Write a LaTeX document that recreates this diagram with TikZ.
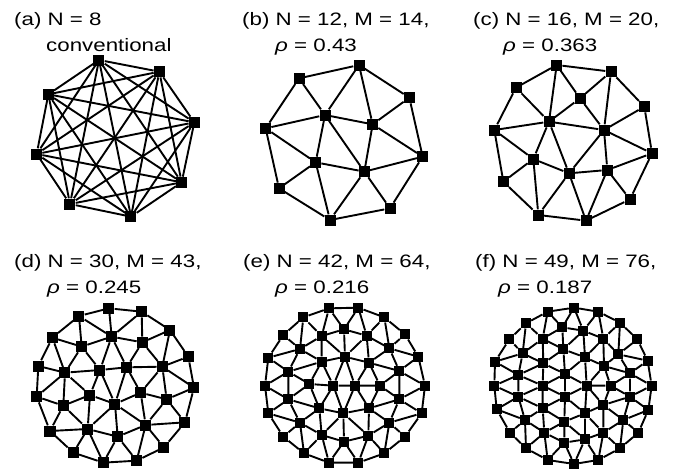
\documentclass[tikz,border=0pt]{standalone}
\usepackage{fontspec}
\setmainfont{Liberation Sans}[FakeStretch=1.24]
\usepackage{tikz}

\begin{document}
\begin{tikzpicture}[
        x=1pt, y=-1pt,
        sq/.style={fill=black, draw=none, inner sep=0pt, minimum size=11pt},
        sqs/.style={sq, minimum size=10pt},
        edge/.style={line width=1.9pt},
        lab/.style={anchor=base west, inner sep=0pt, font=\fontsize{18}{21}\selectfont}
    ]
    \useasboundingbox (0,0) rectangle (677,472);

    % Panel titles
    \node[lab] (tA) at (14,25) {(a) N = 8};
    \node[lab] (tA2) at (46,51) {conventional};
    \node[lab] (tB) at (242,25) {(b) N = 12, M = 14,};
    \node[lab] (tB2) at (275,51) {\textit{ρ} = 0.43};
    \node[lab] (tC) at (473,25) {(c) N = 16, M = 20,};
    \node[lab] (tC2) at (503,51) {\textit{ρ} = 0.363};
    \node[lab] (tD) at (14,267) {(d) N = 30, M = 43,};
    \node[lab] (tD2) at (47,293) {\textit{ρ} = 0.245};
    \node[lab] (tE) at (243,267) {(e) N = 42, M = 64,};
    \node[lab] (tE2) at (275,293) {\textit{ρ} = 0.216};
    \node[lab] (tF) at (475,267) {(f) N = 49, M = 76,};
    \node[lab] (tF2) at (498,293) {\textit{ρ} = 0.187};

    % (a) fully connected
    \begin{scope}[shift={(0,0)}, scale=1/3]
    \foreach \n/\x/\y in {1/297/180, 2/478/215, 3/583/367, 4/545/547,
                          5/393/650, 6/210/612, 7/110/462, 8/145/283}
        \node[sq] (a\n) at (\x,\y) {};
    \foreach \i in {1,...,7}{
        \pgfmathtruncatemacro\k{\i+1}
        \foreach \j in {\k,...,8}
            \draw[edge] (a\i) -- (a\j);
    }
    \end{scope}

    % (b)
    \begin{scope}[shift={(225,0)}, scale=1/3]
    \foreach \n/\x/\y in {1/402/195, 2/222/235, 3/553/293, 4/300/345, 5/443/373,
                          6/122/385, 7/593/470, 8/272/487, 9/418/515, 10/162/565,
                          11/495/625, 12/315/660}
        \node[sq] (b\n) at (\x,\y) {};
    \foreach \u/\v in {b1/b2, b2/b4, b2/b6, b1/b4, b1/b5, b1/b3, b3/b5, b3/b7,
                       b4/b6, b4/b5, b4/b8, b4/b9, b5/b7, b5/b9, b6/b8, b6/b10,
                       b8/b9, b8/b10, b8/b12, b9/b7, b9/b12, b9/b11, b7/b11,
                       b12/b10, b12/b11}
        \draw[edge] (\u) -- (\v);
    \end{scope}

    % (c)
    \begin{scope}[shift={(450,0)}, scale=1/3]
    \foreach \n/\x/\y in {1/320/195, 2/483/215, 3/198/263, 4/390/295, 5/583/320,
                          6/297/365, 7/133/390, 8/462/390, 9/606/460, 10/250/477,
                          11/357/520, 12/472/510, 13/160/545, 14/540/598,
                          15/265/645, 16/408/662}
        \node[sq] (c\n) at (\x,\y) {};
    \foreach \u/\v in {c1/c2, c1/c3, c1/c4, c1/c6, c2/c4, c2/c5, c2/c8, c3/c6,
                       c3/c7, c4/c6, c4/c8, c5/c8, c5/c9, c6/c7, c6/c8, c6/c10,
                       c6/c11, c7/c10, c7/c13, c8/c9, c8/c11, c8/c12, c9/c12,
                       c9/c14, c10/c11, c10/c13, c10/c15, c11/c12, c11/c15,
                       c11/c16, c12/c14, c12/c16, c13/c15, c14/c16, c15/c16}
        \draw[edge] (\u) -- (\v);
    \end{scope}

    % (d)
    \begin{scope}[shift={(0,240)}, scale=1/3]
    \foreach \n/\x/\y in {1/327/205, 2/425/215, 3/510/270, 4/565/350, 5/582/443,
                          6/555/547, 7/492/622, 8/410/662, 9/310/668, 10/220/638,
                          11/150/573, 12/110/470, 13/115/378, 14/157/293, 15/237/228,
                          16/335/290, 17/245/320, 18/427/307, 19/195/398, 20/300/390,
                          21/380/382, 22/487/380, 23/270/465, 24/422/458, 25/190/497,
                          26/345/492, 27/500/478, 28/263/567, 29/437/555, 30/353/590}
        \node[sq] (d\n) at (\x,\y) {};
    \foreach \i in {1,...,15}{
        \pgfmathtruncatemacro\j{mod(\i,15)+1}
        \draw[edge] (d\i) -- (d\j);
    }
    \foreach \u/\v in {d15/d17, d15/d16, d1/d16, d2/d16, d2/d18, d3/d18, d3/d22,
                       d14/d17, d16/d17, d16/d18, d4/d22, d5/d22, d5/d27, d18/d22,
                       d18/d21, d16/d21, d16/d20, d17/d20, d17/d19, d14/d19, d13/d19,
                       d19/d20, d20/d21, d21/d22, d12/d19, d12/d25, d19/d23, d20/d23,
                       d20/d26, d21/d26, d21/d24, d22/d24, d22/d27, d23/d25, d23/d26,
                       d24/d26, d24/d27, d23/d28, d25/d28, d25/d11, d11/d28, d26/d30,
                       d26/d29, d24/d29, d27/d29, d27/d6, d6/d29, d29/d7, d29/d8,
                       d29/d30, d30/d8, d30/d9, d28/d30, d28/d9, d28/d10, d19/d25,
                       d26/d28}
        \draw[edge] (\u) -- (\v);
    \end{scope}

    % (e)
    \begin{scope}[shift={(225,240)}, scale=1/3]
    \foreach \n/\x/\y in {1/312/205, 2/400/203, 3/478/232, 4/540/283, 5/580/350,
                          6/600/437, 7/590/520, 8/540/590, 9/478/640, 10/400/668,
                          11/312/668, 12/237/640, 13/175/590, 14/130/520, 15/120/437,
                          16/130/353, 17/175/285, 18/235/232,
                          19/357/268, 20/425/287, 21/493/325, 22/523/393, 23/523/478,
                          24/493/548, 25/430/587, 26/357/605, 27/290/585, 28/225/548,
                          29/190/478, 30/190/395, 31/225/327, 32/290/288,
                          33/360/350, 34/432/368, 35/465/437, 36/432/505, 37/355/520,
                          38/283/505, 39/253/432, 40/290/365, 41/325/437, 42/390/437}
        \node[sqs] (e\n) at (\x,\y) {};
    \foreach \i in {1,...,18}{
        \pgfmathtruncatemacro\j{mod(\i,18)+1}
        \draw[edge] (e\i) -- (e\j);
    }
    \foreach \i in {19,...,32}{
        \pgfmathtruncatemacro\j{mod(\i-19+1,14)+19}
        \draw[edge] (e\i) -- (e\j);
    }
    \foreach \i in {33,...,40}{
        \pgfmathtruncatemacro\j{mod(\i-33+1,8)+33}
        \draw[edge] (e\i) -- (e\j);
    }
    \foreach \u/\v in {e1/e19, e2/e19, e2/e20, e3/e20, e3/e21, e4/e21, e5/e21, e5/e22,
                       e6/e22, e6/e23, e7/e23, e7/e24, e8/e24, e9/e24, e9/e25, e10/e25,
                       e10/e26, e11/e26, e11/e27, e12/e27, e12/e28, e13/e28, e14/e28,
                       e14/e29, e15/e29, e15/e30, e16/e30, e16/e31, e17/e31, e18/e31,
                       e18/e32, e1/e32,
                       e19/e33, e20/e33, e20/e34, e21/e34, e22/e34, e22/e35, e23/e35,
                       e23/e36, e24/e36, e25/e36, e25/e37, e26/e37, e27/e37, e27/e38,
                       e28/e38, e29/e38, e29/e39, e30/e39, e30/e40, e31/e40, e32/e40,
                       e32/e33,
                       e41/e42, e41/e37, e41/e38, e41/e39, e41/e40, e41/e33,
                       e42/e33, e42/e34, e42/e35, e42/e36, e42/e37}
        \draw[edge] (\u) -- (\v);
    \end{scope}

    % (f)
    \begin{scope}[shift={(450,240)}, scale=1/3]
    \foreach \n/\x/\y in {1/372/203, 2/445/215, 3/510/248, 4/562/298, 5/593/362,
                          6/605/437, 7/595/510, 8/565/578, 9/510/625, 10/445/660,
                          11/372/672, 12/293/660, 13/228/625, 14/180/578, 15/140/508,
                          16/133/437, 17/135/365, 18/178/298, 19/228/250, 20/293/215,
                          21/337/262, 22/400/272, 23/278/296, 24/460/296, 25/340/328,
                          26/218/340, 27/405/352, 28/505/343, 29/280/370, 30/205/405,
                          31/345/402, 32/462/378, 33/540/400, 34/278/437, 35/410/437,
                          36/482/437, 37/205/470, 38/345/470, 39/540/470, 40/460/495,
                          41/278/505, 42/405/520, 43/225/540, 44/520/540, 45/343/545,
                          46/283/578, 47/460/578, 48/405/598, 49/343/608}
        \node[sqs] (f\n) at (\x,\y) {};
    \foreach \i in {1,...,20}{
        \pgfmathtruncatemacro\j{mod(\i,20)+1}
        \draw[edge] (f\i) -- (f\j);
    }
    \foreach \u/\v in {f22/f24, f24/f28, f28/f33, f33/f39, f39/f44, f44/f47, f47/f48,
                       f48/f49, f49/f46, f46/f43, f43/f37, f37/f30, f30/f26, f26/f23,
                       f23/f21, f21/f22,
                       f27/f32, f32/f36, f36/f40, f40/f42, f42/f45, f45/f41, f41/f34,
                       f34/f29, f29/f25, f25/f27,
                       f1/f22, f1/f21, f2/f22, f2/f24, f3/f24, f3/f28, f4/f28, f5/f28,
                       f5/f33, f6/f33, f6/f39, f7/f39, f7/f44, f8/f44, f9/f44, f9/f47,
                       f10/f47, f10/f48, f11/f48, f11/f49, f12/f49, f12/f46, f13/f46,
                       f13/f43, f14/f43, f15/f43, f15/f37, f16/f37, f16/f30, f17/f30,
                       f17/f26, f18/f26, f19/f26, f19/f23, f20/f23, f20/f21,
                       f22/f27, f22/f25, f24/f27, f24/f32, f28/f32, f33/f32, f33/f36,
                       f39/f36, f39/f40, f44/f40, f47/f40, f47/f42, f48/f42, f48/f45,
                       f49/f45, f46/f45, f46/f41, f43/f41, f37/f41, f37/f34, f30/f34,
                       f30/f29, f26/f29, f23/f29, f23/f25, f21/f25,
                       f31/f35, f35/f38, f38/f31, f31/f34, f31/f29, f31/f25, f31/f27,
                       f35/f27, f35/f32, f35/f36, f35/f40, f35/f42,
                       f38/f42, f38/f45, f38/f41, f38/f34}
        \draw[edge] (\u) -- (\v);
    \end{scope}

\end{tikzpicture}
\end{document}
